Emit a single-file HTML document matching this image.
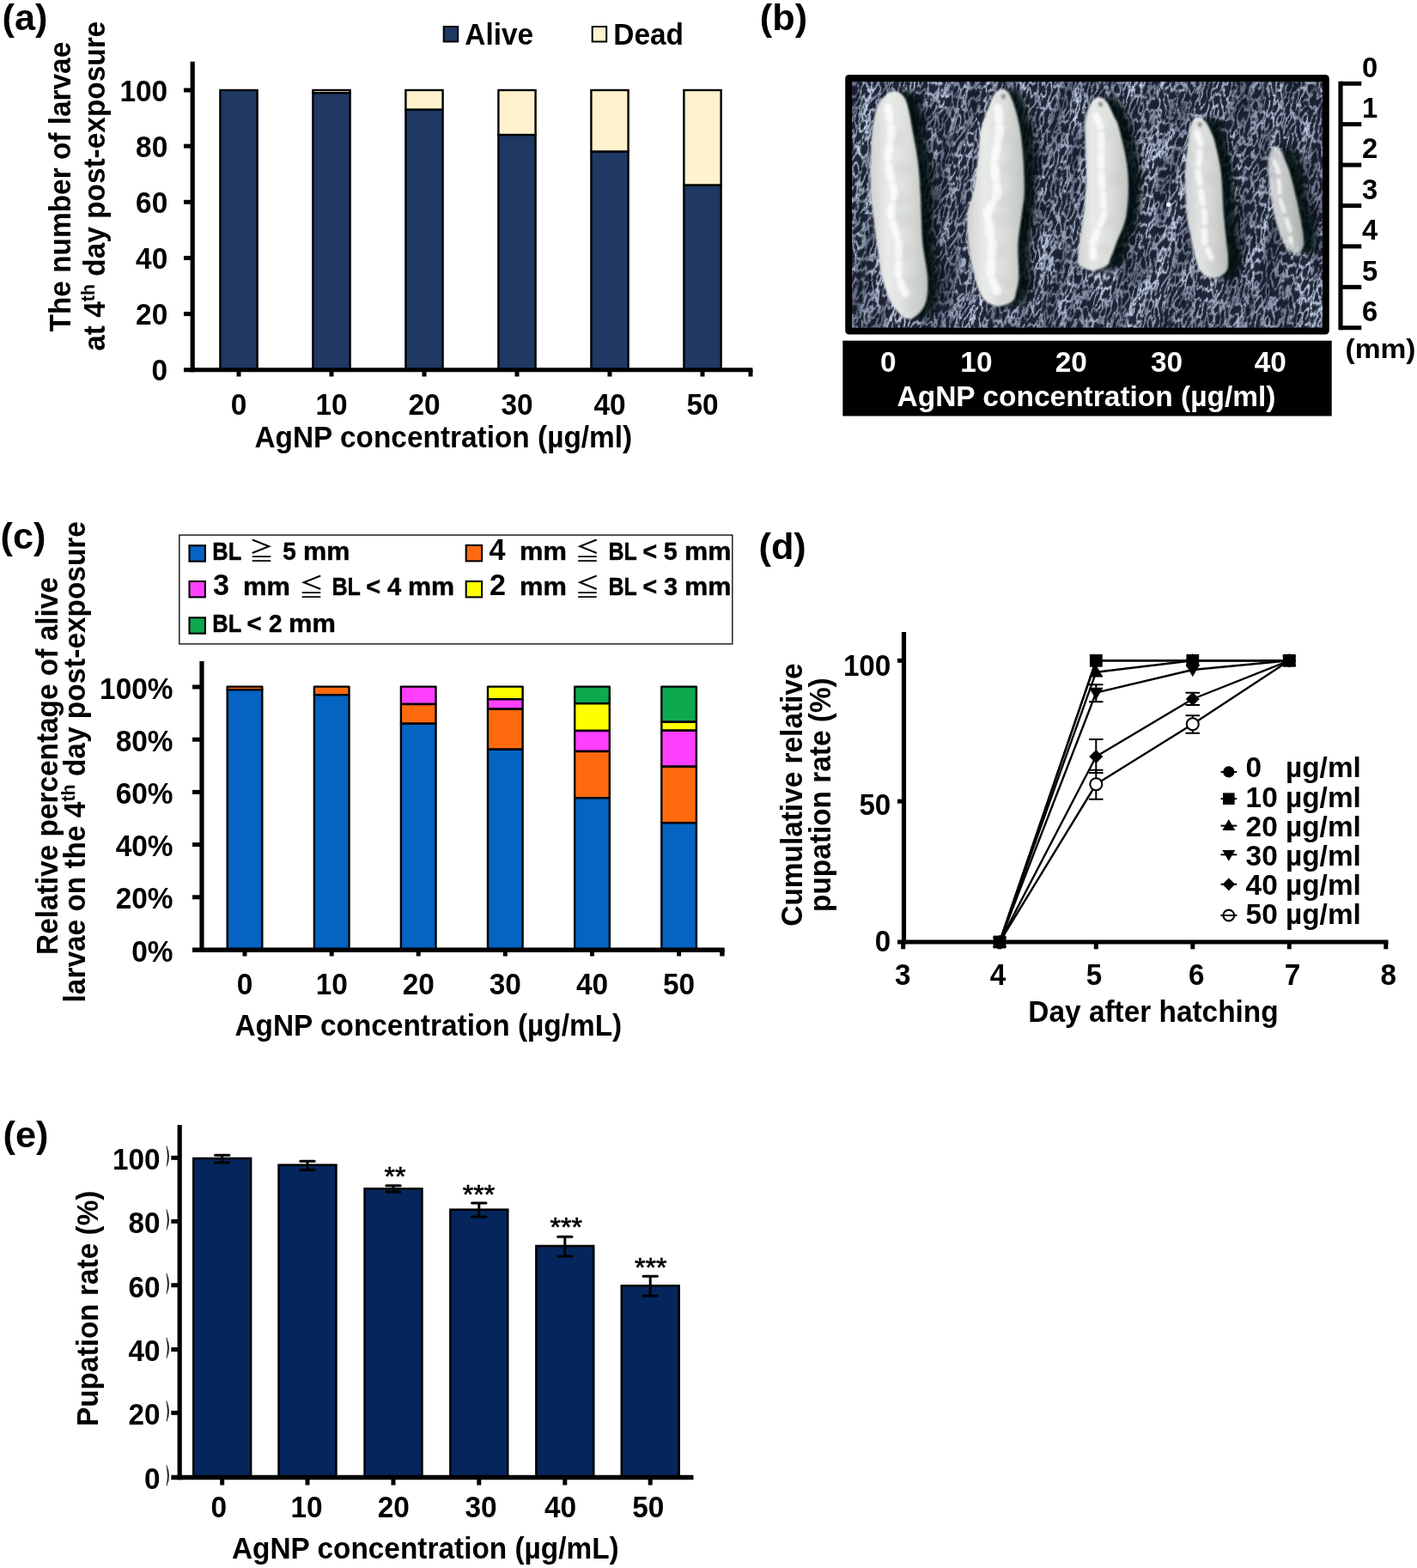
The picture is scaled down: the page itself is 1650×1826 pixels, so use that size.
<!DOCTYPE html>
<html lang="en">
<head>
<meta charset="utf-8">
<title>AgNP exposure: larval survival, body length and pupation</title>
<style>
html,body{margin:0;padding:0;background:#fff;}
body{width:1650px;height:1826px;overflow:hidden;}
svg{display:block;}
svg text{font-family:"Liberation Sans",sans-serif;font-weight:bold;}
</style>
</head>
<body>
<svg width="1650" height="1826" viewBox="0 0 1650 1826">
<rect x="0" y="0" width="1650" height="1826" fill="#ffffff" stroke="none"/>
<text transform="translate(2.5 35.1) scale(1 1)" font-size="43.3" text-anchor="start" fill="#000" >(a)</text>
<rect x="516.70" y="31.00" width="16.50" height="17.50" fill="#1f3864" stroke="#000" stroke-width="2" />
<text transform="translate(541.3 51.8) scale(1 1.04)" font-size="33.4" text-anchor="start" fill="#000" >Alive</text>
<rect x="689.70" y="31.00" width="16.50" height="17.50" fill="#fff2cc" stroke="#000" stroke-width="2" />
<text transform="translate(714.3 51.8) scale(1 1.04)" font-size="33.4" text-anchor="start" fill="#000" >Dead</text>
<rect x="256.40" y="105.00" width="43.20" height="325.70" fill="#1f3864" stroke="#000" stroke-width="2.4" />
<rect x="364.40" y="105.00" width="43.20" height="3.26" fill="#fff2cc" stroke="#000" stroke-width="2.4" />
<rect x="364.40" y="108.26" width="43.20" height="322.44" fill="#1f3864" stroke="#000" stroke-width="2.4" />
<rect x="472.40" y="105.00" width="43.20" height="22.80" fill="#fff2cc" stroke="#000" stroke-width="2.4" />
<rect x="472.40" y="127.80" width="43.20" height="302.90" fill="#1f3864" stroke="#000" stroke-width="2.4" />
<rect x="580.40" y="105.00" width="43.20" height="52.11" fill="#fff2cc" stroke="#000" stroke-width="2.4" />
<rect x="580.40" y="157.11" width="43.20" height="273.59" fill="#1f3864" stroke="#000" stroke-width="2.4" />
<rect x="688.40" y="105.00" width="43.20" height="71.65" fill="#fff2cc" stroke="#000" stroke-width="2.4" />
<rect x="688.40" y="176.65" width="43.20" height="254.05" fill="#1f3864" stroke="#000" stroke-width="2.4" />
<rect x="796.40" y="105.00" width="43.20" height="110.74" fill="#fff2cc" stroke="#000" stroke-width="2.4" />
<rect x="796.40" y="215.74" width="43.20" height="214.96" fill="#1f3864" stroke="#000" stroke-width="2.4" />
<line x1="224.2" y1="71.7" x2="224.2" y2="433.3" stroke="#000" stroke-width="5.2" stroke-linecap="butt"/>
<line x1="214" y1="430.8" x2="876.3" y2="430.8" stroke="#000" stroke-width="5" stroke-linecap="butt"/>
<text transform="translate(195.2 443.4) scale(1 1.04)" font-size="33.4" text-anchor="end" fill="#000" >0</text>
<line x1="214" y1="365.56" x2="224.2" y2="365.56" stroke="#000" stroke-width="5" stroke-linecap="butt"/>
<text transform="translate(195.2 378.26) scale(1 1.04)" font-size="33.4" text-anchor="end" fill="#000" >20</text>
<line x1="214" y1="300.42" x2="224.2" y2="300.42" stroke="#000" stroke-width="5" stroke-linecap="butt"/>
<text transform="translate(195.2 313.12) scale(1 1.04)" font-size="33.4" text-anchor="end" fill="#000" >40</text>
<line x1="214" y1="235.28" x2="224.2" y2="235.28" stroke="#000" stroke-width="5" stroke-linecap="butt"/>
<text transform="translate(195.2 247.98) scale(1 1.04)" font-size="33.4" text-anchor="end" fill="#000" >60</text>
<line x1="214" y1="170.14000000000004" x2="224.2" y2="170.14000000000004" stroke="#000" stroke-width="5" stroke-linecap="butt"/>
<text transform="translate(195.2 182.84000000000003) scale(1 1.04)" font-size="33.4" text-anchor="end" fill="#000" >80</text>
<line x1="214" y1="105.0" x2="224.2" y2="105.0" stroke="#000" stroke-width="5" stroke-linecap="butt"/>
<text transform="translate(195.2 117.7) scale(1 1.04)" font-size="33.4" text-anchor="end" fill="#000" >100</text>
<line x1="278" y1="430" x2="278" y2="438.5" stroke="#000" stroke-width="5" stroke-linecap="butt"/>
<line x1="386" y1="430" x2="386" y2="438.5" stroke="#000" stroke-width="5" stroke-linecap="butt"/>
<line x1="494" y1="430" x2="494" y2="438.5" stroke="#000" stroke-width="5" stroke-linecap="butt"/>
<line x1="602" y1="430" x2="602" y2="438.5" stroke="#000" stroke-width="5" stroke-linecap="butt"/>
<line x1="710" y1="430" x2="710" y2="438.5" stroke="#000" stroke-width="5" stroke-linecap="butt"/>
<line x1="818" y1="430" x2="818" y2="438.5" stroke="#000" stroke-width="5" stroke-linecap="butt"/>
<line x1="874" y1="430" x2="874" y2="438.5" stroke="#000" stroke-width="5" stroke-linecap="butt"/>
<text transform="translate(278 483) scale(1 1.04)" font-size="33.4" text-anchor="middle" fill="#000" >0</text>
<text transform="translate(386 483) scale(1 1.04)" font-size="33.4" text-anchor="middle" fill="#000" >10</text>
<text transform="translate(494 483) scale(1 1.04)" font-size="33.4" text-anchor="middle" fill="#000" >20</text>
<text transform="translate(602 483) scale(1 1.04)" font-size="33.4" text-anchor="middle" fill="#000" >30</text>
<text transform="translate(710 483) scale(1 1.04)" font-size="33.4" text-anchor="middle" fill="#000" >40</text>
<text transform="translate(818 483) scale(1 1.04)" font-size="33.4" text-anchor="middle" fill="#000" >50</text>
<text transform="translate(516.3 520.7) scale(1 1.04)" font-size="33.4" text-anchor="middle" fill="#000" >AgNP concentration (µg/ml)</text>
<text transform="translate(81.7 217.6) rotate(-90) scale(1 1.04)" font-size="33.4" text-anchor="middle" >The number of larvae</text>
<text transform="translate(122.3 216.8) rotate(-90) scale(1 1.04)" font-size="33.4" text-anchor="middle" >at 4<tspan font-size="21.5" dy="-11.5">th</tspan><tspan dy="11.5"> </tspan>day post-exposure</text>
<text transform="translate(884.8 35.1) scale(1 1)" font-size="43.3" text-anchor="start" fill="#000" >(b)</text>
<defs>
<filter id="tex" x="0" y="0" width="100%" height="100%" color-interpolation-filters="sRGB">
  <feTurbulence type="fractalNoise" baseFrequency="0.05 0.014" numOctaves="2" seed="4" result="big"/>
  <feTurbulence type="turbulence" baseFrequency="0.19 0.075" numOctaves="3" seed="8" result="fine"/>
  <feColorMatrix in="big" type="matrix" values="0 0 0 0 0  0 0 0 0 0  0 0 0 0 0  2.8 0 0 0 -0.90" result="bigA"/>
  <feColorMatrix in="fine" type="matrix" values="0 0 0 0 0  0 0 0 0 0  0 0 0 0 0  -4.6 0 0 0 1.62" result="fineA"/>
  <feComposite in="fineA" in2="bigA" operator="arithmetic" k1="0.48" k2="0.47" k3="0.06" k4="0" result="mix"/>
  <feColorMatrix in="mix" type="matrix" values="0 0 0 0.66 0.095  0 0 0 0.69 0.115  0 0 0 0.72 0.18  0 0 0 0 1"/>
</filter>
<filter id="soft" x="-20%" y="-10%" width="140%" height="120%"><feGaussianBlur stdDeviation="1.1"/></filter>
<filter id="shadow" x="-40%" y="-10%" width="180%" height="120%"><feGaussianBlur stdDeviation="3.2"/></filter>
<filter id="shadow2" x="-50%" y="-10%" width="200%" height="120%"><feGaussianBlur stdDeviation="4.5 3"/></filter>
<filter id="hl" x="-40%" y="-10%" width="180%" height="120%"><feGaussianBlur stdDeviation="1.6"/></filter>
<clipPath id="photoclip"><rect x="992" y="95.2" width="548" height="286.4"/></clipPath>
<linearGradient id="lg" x1="0" y1="0" x2="1" y2="0">
  <stop offset="0" stop-color="#cfd2d2"/><stop offset="0.3" stop-color="#e9ebea"/>
  <stop offset="0.65" stop-color="#dcdfdc"/><stop offset="1" stop-color="#bfc3c1"/>
</linearGradient>
</defs>
<rect x="984.2" y="87" width="563.6" height="302.5" rx="4.5" ry="4.5" fill="#000"/>
<g clip-path="url(#photoclip)">
<rect x="992.0" y="95.2" width="548.0" height="286.40000000000003" fill="#3f4a66"/>
<g transform="translate(1266 238) rotate(7) skewX(-6) translate(-1266 -238)"><rect x="940" y="40" width="650" height="400" filter="url(#tex)"/></g>
<path d="M1055.8 104.5C1060.0 104.5 1064.6 108.5 1067.5 112.0C1070.4 115.5 1071.2 118.7 1073.0 125.5C1074.8 132.3 1076.3 142.1 1078.2 152.7C1080.1 163.3 1083.0 176.9 1084.5 189.0C1086.0 201.1 1086.7 215.6 1087.3 225.5C1087.9 235.4 1087.8 238.4 1088.2 248.2C1088.7 258.0 1088.8 272.4 1090.0 284.5C1091.2 296.6 1094.8 310.4 1095.5 321.0C1096.2 331.6 1096.0 341.0 1094.5 348.2C1093.0 355.4 1090.2 359.9 1086.5 364.0C1082.8 368.1 1076.9 373.0 1072.2 373.0C1067.5 373.0 1062.5 368.1 1058.5 364.0C1054.5 359.9 1051.3 355.4 1048.0 348.2C1044.7 341.0 1041.3 331.6 1038.9 321.0C1036.5 310.4 1035.1 296.6 1033.4 284.5C1031.7 272.4 1030.1 258.0 1028.9 248.2C1027.7 238.4 1026.6 235.4 1026.1 225.5C1025.6 215.6 1025.8 201.1 1026.1 189.0C1026.4 176.9 1026.8 163.3 1028.0 152.7C1029.2 142.1 1031.0 132.3 1033.4 125.5C1035.8 118.7 1038.8 115.5 1042.5 112.0C1046.2 108.5 1051.6 104.5 1055.8 104.5Z" fill="#05070f" opacity="0.9" filter="url(#shadow2)"/>
<path d="M1181.3 101.9C1184.6 101.9 1187.8 105.1 1190.5 109.0C1193.2 112.9 1195.1 118.2 1197.3 125.5C1199.5 132.8 1202.0 142.1 1203.7 152.7C1205.4 163.3 1206.5 176.9 1207.3 189.0C1208.0 201.1 1208.5 215.6 1208.2 225.5C1207.9 235.4 1206.7 238.4 1205.5 248.2C1204.3 258.0 1201.6 272.4 1201.0 284.5C1200.4 296.6 1202.2 311.9 1201.9 321.0C1201.6 330.1 1200.3 334.0 1199.1 339.0C1197.9 344.0 1198.3 347.8 1194.5 351.0C1190.7 354.2 1181.7 358.0 1176.0 358.0C1170.3 358.0 1164.4 354.2 1160.5 351.0C1156.6 347.8 1154.8 344.0 1152.5 339.0C1150.2 334.0 1149.1 330.1 1147.0 321.0C1144.9 311.9 1141.1 296.6 1139.8 284.5C1138.5 272.4 1138.0 258.0 1138.9 248.2C1139.8 238.4 1143.2 235.4 1145.2 225.5C1147.2 215.6 1149.2 201.1 1150.7 189.0C1152.2 176.9 1152.2 163.3 1154.3 152.7C1156.4 142.1 1160.7 132.8 1163.4 125.5C1166.1 118.2 1167.5 112.9 1170.5 109.0C1173.5 105.1 1178.0 101.9 1181.3 101.9Z" fill="#05070f" opacity="0.9" filter="url(#shadow2)"/>
<path d="M1294.0 111.5C1297.5 111.5 1301.4 115.1 1304.5 119.0C1307.6 122.9 1310.1 129.8 1312.5 135.0C1314.9 140.2 1316.1 139.2 1318.8 150.0C1321.5 160.8 1327.4 183.3 1328.8 200.0C1330.2 216.7 1329.4 236.2 1327.2 250.0C1325.0 263.8 1318.6 274.7 1315.5 283.0C1312.4 291.3 1310.6 295.7 1308.8 300.0C1307.0 304.3 1308.3 306.2 1304.5 309.0C1300.7 311.8 1291.8 316.5 1286.0 316.5C1280.2 316.5 1272.6 311.8 1269.5 309.0C1266.4 306.2 1267.5 304.3 1267.5 300.0C1267.5 295.7 1268.1 291.3 1269.2 283.0C1270.3 274.7 1272.8 263.8 1274.2 250.0C1275.6 236.2 1277.2 216.7 1277.5 200.0C1277.8 183.3 1275.8 160.8 1275.8 150.0C1275.8 139.2 1276.2 140.2 1277.5 135.0C1278.8 129.8 1280.8 122.9 1283.5 119.0C1286.2 115.1 1290.5 111.5 1294.0 111.5Z" fill="#05070f" opacity="0.9" filter="url(#shadow2)"/>
<path d="M1409.5 135.0C1412.7 135.0 1416.7 138.7 1419.5 142.0C1422.3 145.3 1424.7 150.8 1426.5 155.0C1428.3 159.2 1428.7 159.5 1430.5 167.0C1432.3 174.5 1435.5 186.2 1437.2 200.0C1438.9 213.8 1439.4 236.2 1440.5 250.0C1441.6 263.8 1443.0 274.7 1443.8 283.0C1444.6 291.3 1445.5 294.5 1445.5 300.0C1445.5 305.5 1446.6 311.8 1443.5 316.0C1440.4 320.2 1432.5 325.5 1427.0 325.5C1421.5 325.5 1414.3 320.2 1410.5 316.0C1406.7 311.8 1405.8 305.5 1404.2 300.0C1402.6 294.5 1402.5 291.3 1400.8 283.0C1399.1 274.7 1395.6 263.8 1394.2 250.0C1392.8 236.2 1392.2 213.8 1392.5 200.0C1392.8 186.2 1395.1 174.5 1395.8 167.0C1396.5 159.5 1395.7 159.2 1396.5 155.0C1397.3 150.8 1398.3 145.3 1400.5 142.0C1402.7 138.7 1406.3 135.0 1409.5 135.0Z" fill="#05070f" opacity="0.9" filter="url(#shadow2)"/>
<path d="M1499.0 169.0C1501.7 169.0 1505.2 172.8 1507.5 176.0C1509.8 179.2 1510.9 184.0 1512.5 188.0C1514.1 192.0 1515.0 192.5 1517.2 200.0C1519.4 207.5 1523.0 221.8 1525.5 233.0C1528.0 244.2 1530.8 258.7 1532.2 267.0C1533.6 275.3 1533.9 279.2 1533.8 283.0C1533.7 286.8 1533.4 287.7 1531.5 290.0C1529.6 292.3 1525.7 297.0 1522.5 297.0C1519.3 297.0 1515.0 292.3 1512.5 290.0C1510.0 287.7 1509.5 286.8 1507.5 283.0C1505.5 279.2 1503.3 275.3 1500.8 267.0C1498.3 258.7 1494.4 244.2 1492.5 233.0C1490.6 221.8 1489.8 207.5 1489.2 200.0C1488.6 192.5 1488.6 192.0 1489.0 188.0C1489.4 184.0 1489.8 179.2 1491.5 176.0C1493.2 172.8 1496.3 169.0 1499.0 169.0Z" fill="#05070f" opacity="0.9" filter="url(#shadow2)"/>
<path d="M1041.8 106.0C1045.5 106.0 1049.4 108.8 1052.0 112.0C1054.6 115.2 1055.7 118.7 1057.5 125.5C1059.3 132.3 1060.8 142.1 1062.7 152.7C1064.6 163.3 1067.5 176.9 1069.0 189.0C1070.5 201.1 1071.2 215.6 1071.8 225.5C1072.4 235.4 1072.2 238.4 1072.7 248.2C1073.2 258.0 1073.3 272.4 1074.5 284.5C1075.7 296.6 1079.2 310.4 1080.0 321.0C1080.8 331.6 1080.5 341.0 1079.0 348.2C1077.5 355.4 1074.5 360.1 1071.0 364.0C1067.5 367.9 1062.4 371.5 1058.2 371.5C1054.0 371.5 1049.8 367.9 1046.0 364.0C1042.2 360.1 1038.8 355.4 1035.5 348.2C1032.2 341.0 1028.8 331.6 1026.4 321.0C1024.0 310.4 1022.6 296.6 1020.9 284.5C1019.2 272.4 1017.6 258.0 1016.4 248.2C1015.2 238.4 1014.1 235.4 1013.6 225.5C1013.1 215.6 1013.3 201.1 1013.6 189.0C1013.9 176.9 1014.3 163.3 1015.5 152.7C1016.7 142.1 1018.5 132.3 1020.9 125.5C1023.3 118.7 1026.5 115.2 1030.0 112.0C1033.5 108.8 1038.1 106.0 1041.8 106.0Z" fill="url(#lg)" opacity="1.0" filter="url(#soft)"/>
<path d="M1167.3 103.4C1170.1 103.4 1172.6 105.3 1175.0 109.0C1177.4 112.7 1179.6 118.2 1181.8 125.5C1184.0 132.8 1186.5 142.1 1188.2 152.7C1189.9 163.3 1191.0 176.9 1191.8 189.0C1192.5 201.1 1193.0 215.6 1192.7 225.5C1192.4 235.4 1191.2 238.4 1190.0 248.2C1188.8 258.0 1186.1 272.4 1185.5 284.5C1184.9 296.6 1186.7 311.9 1186.4 321.0C1186.1 330.1 1184.8 334.0 1183.6 339.0C1182.4 344.0 1182.6 348.1 1179.0 351.0C1175.4 353.9 1167.2 356.5 1162.0 356.5C1156.8 356.5 1151.7 353.9 1148.0 351.0C1144.3 348.1 1142.2 344.0 1140.0 339.0C1137.8 334.0 1136.6 330.1 1134.5 321.0C1132.4 311.9 1128.6 296.6 1127.3 284.5C1126.0 272.4 1125.5 258.0 1126.4 248.2C1127.3 238.4 1130.7 235.4 1132.7 225.5C1134.7 215.6 1136.7 201.1 1138.2 189.0C1139.7 176.9 1139.7 163.3 1141.8 152.7C1143.9 142.1 1148.2 132.8 1150.9 125.5C1153.6 118.2 1155.3 112.7 1158.0 109.0C1160.7 105.3 1164.5 103.4 1167.3 103.4Z" fill="url(#lg)" opacity="1.0" filter="url(#soft)"/>
<path d="M1280.0 113.0C1283.0 113.0 1286.2 115.3 1289.0 119.0C1291.8 122.7 1294.6 129.8 1297.0 135.0C1299.4 140.2 1300.6 139.2 1303.3 150.0C1306.0 160.8 1311.9 183.3 1313.3 200.0C1314.7 216.7 1313.9 236.2 1311.7 250.0C1309.5 263.8 1303.1 274.7 1300.0 283.0C1296.9 291.3 1295.1 295.7 1293.3 300.0C1291.5 304.3 1292.5 306.5 1289.0 309.0C1285.5 311.5 1277.3 315.0 1272.0 315.0C1266.7 315.0 1259.8 311.5 1257.0 309.0C1254.2 306.5 1255.0 304.3 1255.0 300.0C1255.0 295.7 1255.6 291.3 1256.7 283.0C1257.8 274.7 1260.3 263.8 1261.7 250.0C1263.1 236.2 1264.7 216.7 1265.0 200.0C1265.3 183.3 1263.3 160.8 1263.3 150.0C1263.3 139.2 1263.7 140.2 1265.0 135.0C1266.3 129.8 1268.5 122.7 1271.0 119.0C1273.5 115.3 1277.0 113.0 1280.0 113.0Z" fill="url(#lg)" opacity="1.0" filter="url(#soft)"/>
<path d="M1395.5 136.5C1398.2 136.5 1401.4 138.9 1404.0 142.0C1406.6 145.1 1409.2 150.8 1411.0 155.0C1412.8 159.2 1413.2 159.5 1415.0 167.0C1416.8 174.5 1420.0 186.2 1421.7 200.0C1423.4 213.8 1423.9 236.2 1425.0 250.0C1426.1 263.8 1427.5 274.7 1428.3 283.0C1429.1 291.3 1430.0 294.5 1430.0 300.0C1430.0 305.5 1430.8 312.0 1428.0 316.0C1425.2 320.0 1418.0 324.0 1413.0 324.0C1408.0 324.0 1401.5 320.0 1398.0 316.0C1394.5 312.0 1393.3 305.5 1391.7 300.0C1390.1 294.5 1390.0 291.3 1388.3 283.0C1386.6 274.7 1383.1 263.8 1381.7 250.0C1380.3 236.2 1379.7 213.8 1380.0 200.0C1380.3 186.2 1382.6 174.5 1383.3 167.0C1384.0 159.5 1383.2 159.2 1384.0 155.0C1384.8 150.8 1386.1 145.1 1388.0 142.0C1389.9 138.9 1392.8 136.5 1395.5 136.5Z" fill="url(#lg)" opacity="0.96" filter="url(#soft)"/>
<path d="M1485.0 170.5C1487.2 170.5 1490.0 173.1 1492.0 176.0C1494.0 178.9 1495.4 184.0 1497.0 188.0C1498.6 192.0 1499.5 192.5 1501.7 200.0C1503.9 207.5 1507.5 221.8 1510.0 233.0C1512.5 244.2 1515.3 258.7 1516.7 267.0C1518.1 275.3 1518.4 279.2 1518.3 283.0C1518.2 286.8 1517.6 287.9 1516.0 290.0C1514.4 292.1 1511.2 295.5 1508.5 295.5C1505.8 295.5 1502.2 292.1 1500.0 290.0C1497.8 287.9 1497.0 286.8 1495.0 283.0C1493.0 279.2 1490.8 275.3 1488.3 267.0C1485.8 258.7 1481.9 244.2 1480.0 233.0C1478.1 221.8 1477.3 207.5 1476.7 200.0C1476.1 192.5 1476.1 192.0 1476.5 188.0C1476.9 184.0 1477.6 178.9 1479.0 176.0C1480.4 173.1 1482.8 170.5 1485.0 170.5Z" fill="url(#lg)" opacity="0.86" filter="url(#soft)"/>
<ellipse cx="1043.8" cy="160.7" rx="9.4" ry="9" fill="#c4c8c6" opacity="0.28" filter="url(#shadow)"/>
<ellipse cx="1051.3" cy="197.0" rx="11.1" ry="9" fill="#c4c8c6" opacity="0.28" filter="url(#shadow)"/>
<ellipse cx="1048.5" cy="233.5" rx="11.6" ry="9" fill="#c4c8c6" opacity="0.28" filter="url(#shadow)"/>
<ellipse cx="1054.7" cy="256.2" rx="11.3" ry="9" fill="#c4c8c6" opacity="0.28" filter="url(#shadow)"/>
<ellipse cx="1053.1" cy="292.5" rx="10.7" ry="9" fill="#c4c8c6" opacity="0.28" filter="url(#shadow)"/>
<ellipse cx="1062.8" cy="329.0" rx="10.7" ry="9" fill="#c4c8c6" opacity="0.28" filter="url(#shadow)"/>
<ellipse cx="1061.6" cy="356.2" rx="8.7" ry="9" fill="#c4c8c6" opacity="0.28" filter="url(#shadow)"/>
<ellipse cx="1169.6" cy="160.7" rx="9.3" ry="9" fill="#c4c8c6" opacity="0.28" filter="url(#shadow)"/>
<ellipse cx="1174.6" cy="197.0" rx="10.7" ry="9" fill="#c4c8c6" opacity="0.28" filter="url(#shadow)"/>
<ellipse cx="1168.7" cy="233.5" rx="12.0" ry="9" fill="#c4c8c6" opacity="0.28" filter="url(#shadow)"/>
<ellipse cx="1169.6" cy="256.2" rx="12.7" ry="9" fill="#c4c8c6" opacity="0.28" filter="url(#shadow)"/>
<ellipse cx="1162.2" cy="292.5" rx="11.6" ry="9" fill="#c4c8c6" opacity="0.28" filter="url(#shadow)"/>
<ellipse cx="1169.8" cy="329.0" rx="10.4" ry="9" fill="#c4c8c6" opacity="0.28" filter="url(#shadow)"/>
<ellipse cx="1166.2" cy="347.0" rx="8.7" ry="9" fill="#c4c8c6" opacity="0.28" filter="url(#shadow)"/>
<ellipse cx="1287.3" cy="158.0" rx="8.0" ry="9" fill="#c4c8c6" opacity="0.28" filter="url(#shadow)"/>
<ellipse cx="1297.8" cy="208.0" rx="9.7" ry="9" fill="#c4c8c6" opacity="0.28" filter="url(#shadow)"/>
<ellipse cx="1291.7" cy="258.0" rx="10.0" ry="9" fill="#c4c8c6" opacity="0.28" filter="url(#shadow)"/>
<ellipse cx="1286.1" cy="291.0" rx="8.7" ry="9" fill="#c4c8c6" opacity="0.28" filter="url(#shadow)"/>
<ellipse cx="1278.0" cy="308.0" rx="7.7" ry="9" fill="#c4c8c6" opacity="0.28" filter="url(#shadow)"/>
<ellipse cx="1402.3" cy="175.0" rx="6.3" ry="9" fill="#c4c8c6" opacity="0.28" filter="url(#shadow)"/>
<ellipse cx="1408.4" cy="208.0" rx="8.3" ry="9" fill="#c4c8c6" opacity="0.28" filter="url(#shadow)"/>
<ellipse cx="1407.7" cy="258.0" rx="8.7" ry="9" fill="#c4c8c6" opacity="0.28" filter="url(#shadow)"/>
<ellipse cx="1415.5" cy="291.0" rx="8.0" ry="9" fill="#c4c8c6" opacity="0.28" filter="url(#shadow)"/>
<ellipse cx="1414.7" cy="308.0" rx="7.7" ry="9" fill="#c4c8c6" opacity="0.28" filter="url(#shadow)"/>
<ellipse cx="1491.7" cy="208.0" rx="5.0" ry="9" fill="#c4c8c6" opacity="0.28" filter="url(#shadow)"/>
<ellipse cx="1500.4" cy="241.0" rx="6.0" ry="9" fill="#c4c8c6" opacity="0.28" filter="url(#shadow)"/>
<ellipse cx="1505.3" cy="275.0" rx="5.7" ry="9" fill="#c4c8c6" opacity="0.28" filter="url(#shadow)"/>
<ellipse cx="1510.8" cy="291.0" rx="4.7" ry="9" fill="#c4c8c6" opacity="0.28" filter="url(#shadow)"/>
<ellipse cx="1168.5" cy="112.5" rx="2.6" ry="3.0" fill="#5a5a62" opacity="0.55" filter="url(#soft)"/>
<ellipse cx="1281.5" cy="121.5" rx="2.6" ry="3.0" fill="#5a5a62" opacity="0.55" filter="url(#soft)"/>
<ellipse cx="1397.0" cy="145.0" rx="2.6" ry="3.0" fill="#5a5a62" opacity="0.55" filter="url(#soft)"/>
<path d="M1034.1 125.5 L1038.2 152.7 L1033.5 189.0 L1041.5 225.5 L1036.7 248.2 L1046.6 284.5 L1045.7 321.0 L1056.4 348.2" fill="none" stroke="#ffffff" stroke-width="9.0" stroke-linecap="round" stroke-linejoin="round" stroke-dasharray="14 9" opacity="0.75" filter="url(#hl)"/>
<path d="M1162.0 125.5 L1164.1 152.7 L1157.5 189.0 L1161.5 225.5 L1149.3 248.2 L1155.2 284.5 L1153.2 321.0 L1160.9 339.0" fill="none" stroke="#ffffff" stroke-width="10.2" stroke-linecap="round" stroke-linejoin="round" stroke-dasharray="14 9" opacity="0.75" filter="url(#hl)"/>
<path d="M1276.5 135.0 L1282.5 150.0 L1282.4 200.0 L1285.7 250.0 L1272.3 283.0 L1273.4 300.0" fill="none" stroke="#ffffff" stroke-width="8.0" stroke-linecap="round" stroke-linejoin="round" stroke-dasharray="14 9" opacity="0.75" filter="url(#hl)"/>
<path d="M1393.7 155.0 L1398.5 167.0 L1395.0 200.0 L1402.5 250.0 L1402.7 283.0 L1410.1 300.0" fill="none" stroke="#ffffff" stroke-width="6.9" stroke-linecap="round" stroke-linejoin="round" stroke-dasharray="14 9" opacity="0.75" filter="url(#hl)"/>
<path d="M1483.9 188.0 L1488.7 200.0 L1490.8 233.0 L1501.9 267.0 L1503.4 283.0" fill="none" stroke="#ffffff" stroke-width="4.8" stroke-linecap="round" stroke-linejoin="round" stroke-dasharray="14 9" opacity="0.75" filter="url(#hl)"/>
<circle cx="1360.7" cy="238.3" r="2.7" fill="#f4f6f8"/>
</g>
<rect x="981.3" y="396.7" width="569.4" height="87.8" fill="#000"/>
<text transform="translate(1034.2 433) scale(1 1.02)" font-size="33.4" text-anchor="middle" fill="#fff" >0</text>
<text transform="translate(1136.9 433) scale(1 1.02)" font-size="33.4" text-anchor="middle" fill="#fff" >10</text>
<text transform="translate(1247.3 433) scale(1 1.02)" font-size="33.4" text-anchor="middle" fill="#fff" >20</text>
<text transform="translate(1358.6 433) scale(1 1.02)" font-size="33.4" text-anchor="middle" fill="#fff" >30</text>
<text transform="translate(1479.3 433) scale(1 1.02)" font-size="33.4" text-anchor="middle" fill="#fff" >40</text>
<text transform="translate(1265.0 472.8) scale(1 0.985)" font-size="33.5" text-anchor="middle" fill="#fff" >AgNP concentration (µg/ml)</text>
<line x1="1561" y1="94.8" x2="1561" y2="384.2" stroke="#000" stroke-width="5.2" stroke-linecap="butt"/>
<line x1="1561" y1="97.3" x2="1585.3" y2="97.3" stroke="#000" stroke-width="5" stroke-linecap="butt"/>
<line x1="1561" y1="144.7" x2="1585.3" y2="144.7" stroke="#000" stroke-width="5" stroke-linecap="butt"/>
<line x1="1561" y1="192.1" x2="1585.3" y2="192.1" stroke="#000" stroke-width="5" stroke-linecap="butt"/>
<line x1="1561" y1="239.5" x2="1585.3" y2="239.5" stroke="#000" stroke-width="5" stroke-linecap="butt"/>
<line x1="1561" y1="286.9" x2="1585.3" y2="286.9" stroke="#000" stroke-width="5" stroke-linecap="butt"/>
<line x1="1561" y1="334.3" x2="1585.3" y2="334.3" stroke="#000" stroke-width="5" stroke-linecap="butt"/>
<line x1="1561" y1="381.7" x2="1585.3" y2="381.7" stroke="#000" stroke-width="5" stroke-linecap="butt"/>
<text transform="translate(1595.2 89.5) scale(1 1.0)" font-size="32.8" text-anchor="middle" fill="#000" >0</text>
<text transform="translate(1595.2 136.89999999999998) scale(1 1.0)" font-size="32.8" text-anchor="middle" fill="#000" >1</text>
<text transform="translate(1595.2 184.29999999999998) scale(1 1.0)" font-size="32.8" text-anchor="middle" fill="#000" >2</text>
<text transform="translate(1595.2 231.7) scale(1 1.0)" font-size="32.8" text-anchor="middle" fill="#000" >3</text>
<text transform="translate(1595.2 279.09999999999997) scale(1 1.0)" font-size="32.8" text-anchor="middle" fill="#000" >4</text>
<text transform="translate(1595.2 326.5) scale(1 1.0)" font-size="32.8" text-anchor="middle" fill="#000" >5</text>
<text transform="translate(1595.2 373.9) scale(1 1.0)" font-size="32.8" text-anchor="middle" fill="#000" >6</text>
<text transform="translate(1607.5 417.4) scale(1 0.955)" font-size="33.6" text-anchor="middle" fill="#000" >(mm)</text>
<text transform="translate(0.5 639.4) scale(1 1)" font-size="43.3" text-anchor="start" fill="#000" >(c)</text>
<rect x="208.8" y="623.1" width="644" height="126.8" fill="#fff" stroke="#111" stroke-width="1.4"/>
<rect x="220.50" y="635.30" width="18.40" height="18.40" fill="#0563c1" stroke="#000" stroke-width="2.1" />
<text y="651.8" font-size="29.6" stroke="#000" stroke-width="0.45"><tspan x="247.37" textLength="33.46" lengthAdjust="spacingAndGlyphs">BL</tspan> <tspan x="290.00" dy="1.2" font-size="29" stroke="none" style="font-family:'Noto Sans CJK JP','DejaVu Sans',sans-serif;font-weight:normal">≧</tspan><tspan dy="-1.2"> </tspan> <tspan x="329.16" textLength="15.57" lengthAdjust="spacingAndGlyphs">5</tspan> <tspan x="353.01" textLength="54.36" lengthAdjust="spacingAndGlyphs">mm</tspan></text>
<rect x="220.50" y="677.00" width="18.40" height="18.40" fill="#ff40ff" stroke="#000" stroke-width="2.1" />
<text y="693.3" font-size="29.6" stroke="#000" stroke-width="0.45"><tspan x="248.0" font-size="34.2" stroke="none">3</tspan> <tspan x="283.00" textLength="54.79" lengthAdjust="spacingAndGlyphs">mm</tspan> <tspan x="348.00" dy="1.2" font-size="29" stroke="none" style="font-family:'Noto Sans CJK JP','DejaVu Sans',sans-serif;font-weight:normal">≦</tspan><tspan dy="-1.2"> </tspan> <tspan x="386.39" textLength="33.03" lengthAdjust="spacingAndGlyphs">BL</tspan> <tspan x="426.24" textLength="16.88" lengthAdjust="spacingAndGlyphs">&lt;</tspan> <tspan x="450.96" textLength="16.21" lengthAdjust="spacingAndGlyphs">4</tspan> <tspan x="475.02" textLength="54.15" lengthAdjust="spacingAndGlyphs">mm</tspan></text>
<rect x="220.50" y="719.30" width="18.40" height="18.40" fill="#0ea84e" stroke="#000" stroke-width="2.1" />
<text y="735.6" font-size="29.6" stroke="#000" stroke-width="0.45"><tspan x="247.37" textLength="33.46" lengthAdjust="spacingAndGlyphs">BL</tspan> <tspan x="287.43" textLength="17.12" lengthAdjust="spacingAndGlyphs">&lt;</tspan> <tspan x="313.02" textLength="15.52" lengthAdjust="spacingAndGlyphs">2</tspan> <tspan x="336.00" textLength="54.79" lengthAdjust="spacingAndGlyphs">mm</tspan></text>
<rect x="542.70" y="635.00" width="18.40" height="18.40" fill="#ff6a0e" stroke="#000" stroke-width="2.1" />
<text y="651.8" font-size="29.6" stroke="#000" stroke-width="0.45"><tspan x="569.5" font-size="34.2" stroke="none">4</tspan> <tspan x="605.00" textLength="54.79" lengthAdjust="spacingAndGlyphs">mm</tspan> <tspan x="669.40" dy="1.2" font-size="29" stroke="none" style="font-family:'Noto Sans CJK JP','DejaVu Sans',sans-serif;font-weight:normal">≦</tspan><tspan dy="-1.2"> </tspan> <tspan x="708.40" textLength="32.81" lengthAdjust="spacingAndGlyphs">BL</tspan> <tspan x="748.46" textLength="16.65" lengthAdjust="spacingAndGlyphs">&lt;</tspan> <tspan x="772.74" textLength="16.01" lengthAdjust="spacingAndGlyphs">5</tspan> <tspan x="797.01" textLength="54.36" lengthAdjust="spacingAndGlyphs">mm</tspan></text>
<rect x="542.70" y="677.00" width="18.40" height="18.40" fill="#ffff00" stroke="#000" stroke-width="2.1" />
<text y="693.3" font-size="29.6" stroke="#000" stroke-width="0.45"><tspan x="570.0" font-size="34.2" stroke="none">2</tspan> <tspan x="605.00" textLength="54.79" lengthAdjust="spacingAndGlyphs">mm</tspan> <tspan x="669.40" dy="1.2" font-size="29" stroke="none" style="font-family:'Noto Sans CJK JP','DejaVu Sans',sans-serif;font-weight:normal">≦</tspan><tspan dy="-1.2"> </tspan> <tspan x="708.40" textLength="32.81" lengthAdjust="spacingAndGlyphs">BL</tspan> <tspan x="748.46" textLength="16.65" lengthAdjust="spacingAndGlyphs">&lt;</tspan> <tspan x="773.02" textLength="16.01" lengthAdjust="spacingAndGlyphs">3</tspan> <tspan x="797.01" textLength="54.36" lengthAdjust="spacingAndGlyphs">mm</tspan></text>
<rect x="264.70" y="799.60" width="40.60" height="3.70" fill="#ff6a0e" stroke="#000" stroke-width="2.4" stroke-linejoin="round"/>
<rect x="264.70" y="803.30" width="40.60" height="302.70" fill="#0563c1" stroke="#000" stroke-width="2.4" stroke-linejoin="round"/>
<rect x="365.90" y="799.60" width="40.60" height="9.70" fill="#ff6a0e" stroke="#000" stroke-width="2.4" stroke-linejoin="round"/>
<rect x="365.90" y="809.30" width="40.60" height="296.70" fill="#0563c1" stroke="#000" stroke-width="2.4" stroke-linejoin="round"/>
<rect x="466.90" y="799.60" width="40.60" height="20.40" fill="#ff40ff" stroke="#000" stroke-width="2.4" stroke-linejoin="round"/>
<rect x="466.90" y="820.00" width="40.60" height="22.70" fill="#ff6a0e" stroke="#000" stroke-width="2.4" stroke-linejoin="round"/>
<rect x="466.90" y="842.70" width="40.60" height="263.30" fill="#0563c1" stroke="#000" stroke-width="2.4" stroke-linejoin="round"/>
<rect x="568.00" y="799.60" width="40.60" height="14.70" fill="#ffff00" stroke="#000" stroke-width="2.4" stroke-linejoin="round"/>
<rect x="568.00" y="814.30" width="40.60" height="11.40" fill="#ff40ff" stroke="#000" stroke-width="2.4" stroke-linejoin="round"/>
<rect x="568.00" y="825.70" width="40.60" height="47.00" fill="#ff6a0e" stroke="#000" stroke-width="2.4" stroke-linejoin="round"/>
<rect x="568.00" y="872.70" width="40.60" height="233.30" fill="#0563c1" stroke="#000" stroke-width="2.4" stroke-linejoin="round"/>
<rect x="669.20" y="799.60" width="40.60" height="19.70" fill="#0ea84e" stroke="#000" stroke-width="2.4" stroke-linejoin="round"/>
<rect x="669.20" y="819.30" width="40.60" height="31.70" fill="#ffff00" stroke="#000" stroke-width="2.4" stroke-linejoin="round"/>
<rect x="669.20" y="851.00" width="40.60" height="24.00" fill="#ff40ff" stroke="#000" stroke-width="2.4" stroke-linejoin="round"/>
<rect x="669.20" y="875.00" width="40.60" height="54.40" fill="#ff6a0e" stroke="#000" stroke-width="2.4" stroke-linejoin="round"/>
<rect x="669.20" y="929.40" width="40.60" height="176.60" fill="#0563c1" stroke="#000" stroke-width="2.4" stroke-linejoin="round"/>
<rect x="770.30" y="799.60" width="40.60" height="41.10" fill="#0ea84e" stroke="#000" stroke-width="2.4" stroke-linejoin="round"/>
<rect x="770.30" y="840.70" width="40.60" height="10.00" fill="#ffff00" stroke="#000" stroke-width="2.4" stroke-linejoin="round"/>
<rect x="770.30" y="850.70" width="40.60" height="42.10" fill="#ff40ff" stroke="#000" stroke-width="2.4" stroke-linejoin="round"/>
<rect x="770.30" y="892.80" width="40.60" height="65.50" fill="#ff6a0e" stroke="#000" stroke-width="2.4" stroke-linejoin="round"/>
<rect x="770.30" y="958.30" width="40.60" height="147.70" fill="#0563c1" stroke="#000" stroke-width="2.4" stroke-linejoin="round"/>
<line x1="235" y1="770" x2="235" y2="1108.7" stroke="#000" stroke-width="5.2" stroke-linecap="butt"/>
<line x1="224" y1="1106.2" x2="843.6" y2="1106.2" stroke="#000" stroke-width="5.4" stroke-linecap="butt"/>
<text transform="translate(201.5 1119.5) scale(1 1.04)" font-size="33.4" text-anchor="end" fill="#000" >0%</text>
<line x1="224" y1="1044.8" x2="235" y2="1044.8" stroke="#000" stroke-width="5" stroke-linecap="butt"/>
<text transform="translate(201.5 1058.3) scale(1 1.04)" font-size="33.4" text-anchor="end" fill="#000" >20%</text>
<line x1="224" y1="983.6" x2="235" y2="983.6" stroke="#000" stroke-width="5" stroke-linecap="butt"/>
<text transform="translate(201.5 997.1) scale(1 1.04)" font-size="33.4" text-anchor="end" fill="#000" >40%</text>
<line x1="224" y1="922.4" x2="235" y2="922.4" stroke="#000" stroke-width="5" stroke-linecap="butt"/>
<text transform="translate(201.5 935.9) scale(1 1.04)" font-size="33.4" text-anchor="end" fill="#000" >60%</text>
<line x1="224" y1="861.2" x2="235" y2="861.2" stroke="#000" stroke-width="5" stroke-linecap="butt"/>
<text transform="translate(201.5 874.7) scale(1 1.04)" font-size="33.4" text-anchor="end" fill="#000" >80%</text>
<line x1="224" y1="800.0" x2="235" y2="800.0" stroke="#000" stroke-width="5" stroke-linecap="butt"/>
<text transform="translate(201.5 813.5) scale(1 1.04)" font-size="33.4" text-anchor="end" fill="#000" >100%</text>
<line x1="285" y1="1105" x2="285" y2="1113.5" stroke="#000" stroke-width="5" stroke-linecap="butt"/>
<line x1="386.2" y1="1105" x2="386.2" y2="1113.5" stroke="#000" stroke-width="5" stroke-linecap="butt"/>
<line x1="487.2" y1="1105" x2="487.2" y2="1113.5" stroke="#000" stroke-width="5" stroke-linecap="butt"/>
<line x1="588.3" y1="1105" x2="588.3" y2="1113.5" stroke="#000" stroke-width="5" stroke-linecap="butt"/>
<line x1="689.5" y1="1105" x2="689.5" y2="1113.5" stroke="#000" stroke-width="5" stroke-linecap="butt"/>
<line x1="790.6" y1="1105" x2="790.6" y2="1113.5" stroke="#000" stroke-width="5" stroke-linecap="butt"/>
<line x1="840.9" y1="1105" x2="840.9" y2="1113.5" stroke="#000" stroke-width="5.4" stroke-linecap="butt"/>
<text transform="translate(285 1158.2) scale(1 1.04)" font-size="33.4" text-anchor="middle" fill="#000" >0</text>
<text transform="translate(386.2 1158.2) scale(1 1.04)" font-size="33.4" text-anchor="middle" fill="#000" >10</text>
<text transform="translate(487.2 1158.2) scale(1 1.04)" font-size="33.4" text-anchor="middle" fill="#000" >20</text>
<text transform="translate(588.3 1158.2) scale(1 1.04)" font-size="33.4" text-anchor="middle" fill="#000" >30</text>
<text transform="translate(689.5 1158.2) scale(1 1.04)" font-size="33.4" text-anchor="middle" fill="#000" >40</text>
<text transform="translate(790.6 1158.2) scale(1 1.04)" font-size="33.4" text-anchor="middle" fill="#000" >50</text>
<text transform="translate(498.8 1206) scale(1 1.04)" font-size="33.4" text-anchor="middle" fill="#000" >AgNP concentration (µg/mL)</text>
<text transform="translate(67.2 892) rotate(-90) scale(1 1.04)" font-size="33.4" text-anchor="middle" >Relative percentage of alive</text>
<text transform="translate(99.2 887.3) rotate(-90) scale(1 1.04)" font-size="33.4" text-anchor="middle" >larvae on the 4<tspan font-size="21.5" dy="-11.5">th</tspan><tspan dy="11.5"> </tspan>day post-exposure</text>
<text transform="translate(883.5 651.1) scale(1 1)" font-size="43.3" text-anchor="start" fill="#000" >(d)</text>
<path d="M1164.0 1097.0 L1276.3 769.3 L1388.8 769.3 L1501.3 769.3" fill="none" stroke="#000" stroke-width="2.4" stroke-linejoin="round"/>
<path d="M1164.0 1097.0 L1276.3 769.3 L1388.8 769.3 L1501.3 769.3" fill="none" stroke="#000" stroke-width="2.4" stroke-linejoin="round"/>
<path d="M1164.0 1097.0 L1276.3 782.7 L1388.8 769.3 L1501.3 769.3" fill="none" stroke="#000" stroke-width="2.4" stroke-linejoin="round"/>
<path d="M1164.0 1097.0 L1276.3 806.7 L1388.8 780.0 L1501.3 769.3" fill="none" stroke="#000" stroke-width="2.4" stroke-linejoin="round"/>
<path d="M1164.0 1097.0 L1276.3 881.0 L1388.8 814.0 L1501.3 769.3" fill="none" stroke="#000" stroke-width="2.4" stroke-linejoin="round"/>
<path d="M1164.0 1097.0 L1276.3 913.3 L1388.8 843.3 L1501.3 769.3" fill="none" stroke="#000" stroke-width="2.4" stroke-linejoin="round"/>
<path d="M1268.0 797.3H1284.5 M1268.0 817.3H1284.5 M1276.3 797.3V817.3" stroke="#000" stroke-width="2.0" fill="none"/>
<path d="M1268.0 861.0H1284.5 M1268.0 900.0H1284.5 M1276.3 861.0V900.0" stroke="#000" stroke-width="2.0" fill="none"/>
<path d="M1380.5 806.7H1397.0 M1380.5 821.0H1397.0 M1388.8 806.7V821.0" stroke="#000" stroke-width="2.0" fill="none"/>
<path d="M1268.0 896.7H1284.5 M1268.0 930.7H1284.5 M1276.3 896.7V930.7" stroke="#000" stroke-width="2.0" fill="none"/>
<path d="M1380.5 833.3H1397.0 M1380.5 853.7H1397.0 M1388.8 833.3V853.7" stroke="#000" stroke-width="2.0" fill="none"/>
<circle cx="1276.3" cy="913.3" r="7.0" fill="#fff" stroke="#000" stroke-width="2.1"/>
<circle cx="1388.8" cy="843.3" r="7.0" fill="#fff" stroke="#000" stroke-width="2.1"/>
<path d="M1164.0 1089.0 L1172.0 1097.0 L1164.0 1105.0 L1156.0 1097.0Z" fill="#000"/>
<path d="M1276.3 873.0 L1284.3 881.0 L1276.3 889.0 L1268.3 881.0Z" fill="#000"/>
<path d="M1388.8 806.0 L1396.8 814.0 L1388.8 822.0 L1380.8 814.0Z" fill="#000"/>
<path d="M1501.3 761.3 L1509.3 769.3 L1501.3 777.3 L1493.3 769.3Z" fill="#000"/>
<path d="M1164.0 1105.2 L1172.2 1091.1 L1155.8 1091.1Z" fill="#000"/>
<path d="M1276.3 814.9 L1284.5 800.8 L1268.1 800.8Z" fill="#000"/>
<path d="M1388.8 788.2 L1397.0 774.1 L1380.6 774.1Z" fill="#000"/>
<path d="M1501.3 777.5 L1509.5 763.4 L1493.1 763.4Z" fill="#000"/>
<path d="M1164.0 1088.8 L1172.2 1102.9 L1155.8 1102.9Z" fill="#000"/>
<path d="M1276.3 774.5 L1284.5 788.6 L1268.1 788.6Z" fill="#000"/>
<path d="M1388.8 761.1 L1397.0 775.2 L1380.6 775.2Z" fill="#000"/>
<path d="M1501.3 761.1 L1509.5 775.2 L1493.1 775.2Z" fill="#000"/>
<rect x="1156.6" y="1089.6" width="14.8" height="14.8" fill="#000"/>
<rect x="1268.9" y="761.9" width="14.8" height="14.8" fill="#000"/>
<rect x="1381.4" y="761.9" width="14.8" height="14.8" fill="#000"/>
<rect x="1493.9" y="761.9" width="14.8" height="14.8" fill="#000"/>
<circle cx="1164.0" cy="1097.0" r="7.2" fill="#000"/>
<circle cx="1276.3" cy="769.3" r="7.2" fill="#000"/>
<circle cx="1388.8" cy="769.3" r="7.2" fill="#000"/>
<circle cx="1501.3" cy="769.3" r="7.2" fill="#000"/>
<line x1="1052.5" y1="736" x2="1052.5" y2="1099.6" stroke="#000" stroke-width="5.2" stroke-linecap="butt"/>
<line x1="1045" y1="1097" x2="1616.4" y2="1097" stroke="#000" stroke-width="5.2" stroke-linecap="butt"/>
<line x1="1045" y1="769.3" x2="1052.5" y2="769.3" stroke="#000" stroke-width="5" stroke-linecap="butt"/>
<text transform="translate(1037.3 787.2) scale(1 1.06)" font-size="33.2" text-anchor="end" fill="#000" >100</text>
<line x1="1045" y1="933.15" x2="1052.5" y2="933.15" stroke="#000" stroke-width="5" stroke-linecap="butt"/>
<text transform="translate(1037.3 949.2) scale(1 1.06)" font-size="33.2" text-anchor="end" fill="#000" >50</text>
<text transform="translate(1037.3 1107.9) scale(1 1.06)" font-size="33.2" text-anchor="end" fill="#000" >0</text>
<line x1="1051.7" y1="1096" x2="1051.7" y2="1105.3" stroke="#000" stroke-width="5" stroke-linecap="butt"/>
<text transform="translate(1051.3 1146.9) scale(1 1.04)" font-size="33.2" text-anchor="middle" fill="#000" >3</text>
<line x1="1164.0" y1="1096" x2="1164.0" y2="1105.3" stroke="#000" stroke-width="5" stroke-linecap="butt"/>
<text transform="translate(1162.0 1146.9) scale(1 1.04)" font-size="33.2" text-anchor="middle" fill="#000" >4</text>
<line x1="1276.3" y1="1096" x2="1276.3" y2="1105.3" stroke="#000" stroke-width="5" stroke-linecap="butt"/>
<text transform="translate(1274.0 1146.9) scale(1 1.04)" font-size="33.2" text-anchor="middle" fill="#000" >5</text>
<line x1="1388.8" y1="1096" x2="1388.8" y2="1105.3" stroke="#000" stroke-width="5" stroke-linecap="butt"/>
<text transform="translate(1393.3 1146.9) scale(1 1.04)" font-size="33.2" text-anchor="middle" fill="#000" >6</text>
<line x1="1501.3" y1="1096" x2="1501.3" y2="1105.3" stroke="#000" stroke-width="5" stroke-linecap="butt"/>
<text transform="translate(1505.0 1146.9) scale(1 1.04)" font-size="33.2" text-anchor="middle" fill="#000" >7</text>
<line x1="1613.8" y1="1096" x2="1613.8" y2="1105.3" stroke="#000" stroke-width="5" stroke-linecap="butt"/>
<text transform="translate(1616.7 1146.9) scale(1 1.04)" font-size="33.2" text-anchor="middle" fill="#000" >8</text>
<text transform="translate(1343 1190.3) scale(1 1.04)" font-size="33.4" text-anchor="middle" fill="#000" >Day after hatching</text>
<text transform="translate(934.2 925.6) rotate(-90) scale(1 1.04)" font-size="33.4" text-anchor="middle" >Cumulative relative</text>
<text transform="translate(967.0 925.6) rotate(-90) scale(1 1.04)" font-size="33.4" text-anchor="middle" >pupation rate (%)</text>
<line x1="1421.5" y1="898.9" x2="1440.3" y2="898.9" stroke="#000" stroke-width="2.0" stroke-linecap="butt"/>
<circle cx="1430.8" cy="898.9" r="6.6" fill="#000"/>
<text transform="translate(0 905.2) scale(1 1.02)" font-size="33.4"><tspan x="1450.6">0</tspan> <tspan x="1497.0">µg/ml</tspan></text>
<line x1="1421.5" y1="930.2" x2="1440.3" y2="930.2" stroke="#000" stroke-width="2.0" stroke-linecap="butt"/>
<rect x="1424.0" y="923.4" width="13.6" height="13.6" fill="#000"/>
<text transform="translate(0 939.6) scale(1 1.02)" font-size="33.4"><tspan x="1450.6">10</tspan> <tspan x="1497.0">µg/ml</tspan></text>
<line x1="1421.5" y1="961.6" x2="1440.3" y2="961.6" stroke="#000" stroke-width="2.0" stroke-linecap="butt"/>
<path d="M1430.8 954.1 L1438.3 967.0 L1423.3 967.0Z" fill="#000"/>
<text transform="translate(0 973.9) scale(1 1.02)" font-size="33.4"><tspan x="1450.6">20</tspan> <tspan x="1497.0">µg/ml</tspan></text>
<line x1="1421.5" y1="995.3" x2="1440.3" y2="995.3" stroke="#000" stroke-width="2.0" stroke-linecap="butt"/>
<path d="M1430.8 1002.8 L1438.3 989.9 L1423.3 989.9Z" fill="#000"/>
<text transform="translate(0 1008.0) scale(1 1.02)" font-size="33.4"><tspan x="1450.6">30</tspan> <tspan x="1497.0">µg/ml</tspan></text>
<line x1="1421.5" y1="1029.8" x2="1440.3" y2="1029.8" stroke="#000" stroke-width="2.0" stroke-linecap="butt"/>
<path d="M1430.8 1022.4 L1438.2 1029.8 L1430.8 1037.2 L1423.4 1029.8Z" fill="#000"/>
<text transform="translate(0 1042.0) scale(1 1.02)" font-size="33.4"><tspan x="1450.6">40</tspan> <tspan x="1497.0">µg/ml</tspan></text>
<line x1="1421.5" y1="1066.0" x2="1440.3" y2="1066.0" stroke="#000" stroke-width="2.0" stroke-linecap="butt"/>
<circle cx="1430.8" cy="1066.0" r="6.4" fill="#fff" stroke="#000" stroke-width="2.1"/>
<line x1="1421.5" y1="1066.0" x2="1440.3" y2="1066.0" stroke="#000" stroke-width="1.8" stroke-linecap="butt"/>
<text transform="translate(0 1076.2) scale(1 1.02)" font-size="33.4"><tspan x="1450.6">50</tspan> <tspan x="1497.0">µg/ml</tspan></text>
<text transform="translate(3.5 1336.1) scale(1 1)" font-size="43.3" text-anchor="start" fill="#000" >(e)</text>
<rect x="225.30" y="1349.00" width="66.80" height="371.50" fill="#04265c" stroke="#000" stroke-width="2.6" />
<path d="M250.5 1345.2H266.9 M250.5 1353.9H266.9 M258.7 1345.2V1353.9" stroke="#000" stroke-width="3" fill="none" stroke-linecap="round"/>
<rect x="324.60" y="1356.70" width="66.80" height="363.80" fill="#04265c" stroke="#000" stroke-width="2.6" />
<path d="M349.8 1352.3H366.2 M349.8 1362.6H366.2 M358.0 1352.3V1362.6" stroke="#000" stroke-width="3" fill="none" stroke-linecap="round"/>
<rect x="424.60" y="1384.30" width="66.80" height="336.20" fill="#04265c" stroke="#000" stroke-width="2.6" />
<path d="M449.8 1380.7H466.2 M449.8 1388.0H466.2 M458.0 1380.7V1388.0" stroke="#000" stroke-width="3" fill="none" stroke-linecap="round"/>
<text x="460.0" y="1381.1000000000001" font-size="32" text-anchor="middle" stroke="#000" stroke-width="0.7" style="font-weight:normal">**</text>
<rect x="524.40" y="1408.70" width="66.80" height="311.80" fill="#04265c" stroke="#000" stroke-width="2.6" />
<path d="M549.6 1401.0H566.0 M549.6 1417.0H566.0 M557.8 1401.0V1417.0" stroke="#000" stroke-width="3" fill="none" stroke-linecap="round"/>
<text x="557.5" y="1401.7" font-size="32" text-anchor="middle" stroke="#000" stroke-width="0.7" style="font-weight:normal">***</text>
<rect x="624.40" y="1451.00" width="66.80" height="269.50" fill="#04265c" stroke="#000" stroke-width="2.6" />
<path d="M649.6 1440.3H666.0 M649.6 1463.0H666.0 M657.8 1440.3V1463.0" stroke="#000" stroke-width="3" fill="none" stroke-linecap="round"/>
<text x="659.3" y="1440.1000000000001" font-size="32" text-anchor="middle" stroke="#000" stroke-width="0.7" style="font-weight:normal">***</text>
<rect x="723.80" y="1497.30" width="66.80" height="223.20" fill="#04265c" stroke="#000" stroke-width="2.6" />
<path d="M749.0 1486.3H765.4 M749.0 1509.0H765.4 M757.2 1486.3V1509.0" stroke="#000" stroke-width="3" fill="none" stroke-linecap="round"/>
<text x="757.7" y="1487.1000000000001" font-size="32" text-anchor="middle" stroke="#000" stroke-width="0.7" style="font-weight:normal">***</text>
<line x1="209.2" y1="1310" x2="209.2" y2="1723.2" stroke="#000" stroke-width="5.2" stroke-linecap="butt"/>
<line x1="199.3" y1="1720.5" x2="807.5" y2="1720.5" stroke="#000" stroke-width="5.6" stroke-linecap="butt"/>
<line x1="199.3" y1="1348.3" x2="209.2" y2="1348.3" stroke="#000" stroke-width="5" stroke-linecap="butt"/>
<text transform="translate(186.4 1362.1) scale(1 1.07)" font-size="33.2" text-anchor="end" fill="#000" >100</text>
<path d="M193.9 1334.5 q5.4 12.0 0.2 23.8 q2.6 -12.0 -0.2 -23.8Z" fill="#000" stroke="#000" stroke-width="0.5" stroke-linejoin="round"/>
<line x1="199.3" y1="1422.3" x2="209.2" y2="1422.3" stroke="#000" stroke-width="5" stroke-linecap="butt"/>
<text transform="translate(186.4 1436.1) scale(1 1.07)" font-size="33.2" text-anchor="end" fill="#000" >80</text>
<path d="M193.9 1408.5 q5.4 12.0 0.2 23.8 q2.6 -12.0 -0.2 -23.8Z" fill="#000" stroke="#000" stroke-width="0.5" stroke-linejoin="round"/>
<line x1="199.3" y1="1496.7" x2="209.2" y2="1496.7" stroke="#000" stroke-width="5" stroke-linecap="butt"/>
<text transform="translate(186.4 1510.5) scale(1 1.07)" font-size="33.2" text-anchor="end" fill="#000" >60</text>
<path d="M193.9 1482.9 q5.4 12.0 0.2 23.8 q2.6 -12.0 -0.2 -23.8Z" fill="#000" stroke="#000" stroke-width="0.5" stroke-linejoin="round"/>
<line x1="199.3" y1="1571.5" x2="209.2" y2="1571.5" stroke="#000" stroke-width="5" stroke-linecap="butt"/>
<text transform="translate(186.4 1585.3) scale(1 1.07)" font-size="33.2" text-anchor="end" fill="#000" >40</text>
<path d="M193.9 1557.7 q5.4 12.0 0.2 23.8 q2.6 -12.0 -0.2 -23.8Z" fill="#000" stroke="#000" stroke-width="0.5" stroke-linejoin="round"/>
<line x1="199.3" y1="1645.3" x2="209.2" y2="1645.3" stroke="#000" stroke-width="5" stroke-linecap="butt"/>
<text transform="translate(186.4 1659.1) scale(1 1.07)" font-size="33.2" text-anchor="end" fill="#000" >20</text>
<path d="M193.9 1631.5 q5.4 12.0 0.2 23.8 q2.6 -12.0 -0.2 -23.8Z" fill="#000" stroke="#000" stroke-width="0.5" stroke-linejoin="round"/>
<text transform="translate(186.4 1734.0) scale(1 1.07)" font-size="33.2" text-anchor="end" fill="#000" >0</text>
<path d="M193.9 1706.4 q5.4 12.0 0.2 23.8 q2.6 -12.0 -0.2 -23.8Z" fill="#000" stroke="#000" stroke-width="0.5" stroke-linejoin="round"/>
<line x1="258.7" y1="1719" x2="258.7" y2="1729.5" stroke="#000" stroke-width="5" stroke-linecap="butt"/>
<line x1="358.0" y1="1719" x2="358.0" y2="1729.5" stroke="#000" stroke-width="5" stroke-linecap="butt"/>
<line x1="458.0" y1="1719" x2="458.0" y2="1729.5" stroke="#000" stroke-width="5" stroke-linecap="butt"/>
<line x1="557.8" y1="1719" x2="557.8" y2="1729.5" stroke="#000" stroke-width="5" stroke-linecap="butt"/>
<line x1="657.8" y1="1719" x2="657.8" y2="1729.5" stroke="#000" stroke-width="5" stroke-linecap="butt"/>
<line x1="757.2" y1="1719" x2="757.2" y2="1729.5" stroke="#000" stroke-width="5" stroke-linecap="butt"/>
<text transform="translate(254.7 1767) scale(1 1.04)" font-size="33.4" text-anchor="middle" fill="#000" >0</text>
<text transform="translate(357.0 1767) scale(1 1.04)" font-size="33.4" text-anchor="middle" fill="#000" >10</text>
<text transform="translate(458.2 1767) scale(1 1.04)" font-size="33.4" text-anchor="middle" fill="#000" >20</text>
<text transform="translate(560.0 1767) scale(1 1.04)" font-size="33.4" text-anchor="middle" fill="#000" >30</text>
<text transform="translate(652.5 1767) scale(1 1.04)" font-size="33.4" text-anchor="middle" fill="#000" >40</text>
<text transform="translate(754.8 1767) scale(1 1.04)" font-size="33.4" text-anchor="middle" fill="#000" >50</text>
<text transform="translate(495.3 1814.5) scale(1 1.04)" font-size="33.4" text-anchor="middle" fill="#000" >AgNP concentration (µg/mL)</text>
<text transform="translate(114.3 1523.8) rotate(-90) scale(1 1.04)" font-size="33.4" text-anchor="middle" >Pupation rate (%)</text>
</svg>
</body>
</html>
